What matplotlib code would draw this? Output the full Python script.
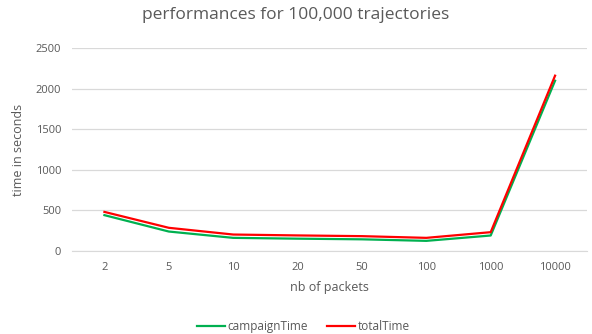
import matplotlib
matplotlib.use("Agg")
import matplotlib.pyplot as plt

packets = ["2", "5", "10", "20", "50", "100", "1000", "10000"]
campaign_time = [440, 238, 160, 150, 142, 123, 189, 2098]
total_time = [480, 284, 201, 190, 181, 160, 230, 2160]

plt.rcParams["font.family"] = ["Open Sans", "DejaVu Sans"]
text_col = "#595959"

fig = plt.figure(figsize=(5.92, 3.34), dpi=100)
ax = fig.add_axes([0.122, 0.249, 0.87, 0.607])

x = range(len(packets))
ax.plot(x, campaign_time, color="#00b050", lw=1.6, label="campaignTime")
ax.plot(x, total_time, color="#ff0000", lw=1.6, label="totalTime")

ax.set_xlim(-0.5, len(packets) - 0.5)
ax.set_ylim(0, 2500)
ax.set_yticks(range(0, 2501, 500))
ax.set_xticks(list(x))
ax.set_xticklabels(packets)
ax.grid(axis="y", color="#d9d9d9", lw=0.9)
ax.set_axisbelow(True)
for s in ["top", "right", "left"]:
    ax.spines[s].set_visible(False)
ax.spines["bottom"].set_color("#d9d9d9")
ax.tick_params(length=0, labelsize=8, colors=text_col, pad=8)

ax.set_xlabel("nb of packets", fontsize=9, color=text_col, labelpad=6)
ax.set_ylabel("time in seconds", fontsize=9, color=text_col, labelpad=8)
fig.suptitle("performances for 100,000 trajectories", fontsize=12.5, color=text_col, y=0.98)

ax.legend(loc="upper center", bbox_to_anchor=(0.448, -0.29), ncol=2, frameon=False,
          fontsize=8.5, labelcolor=text_col, handlelength=2.4, handletextpad=0.2,
          columnspacing=1.6)

fig.savefig("out.png", dpi=100)
